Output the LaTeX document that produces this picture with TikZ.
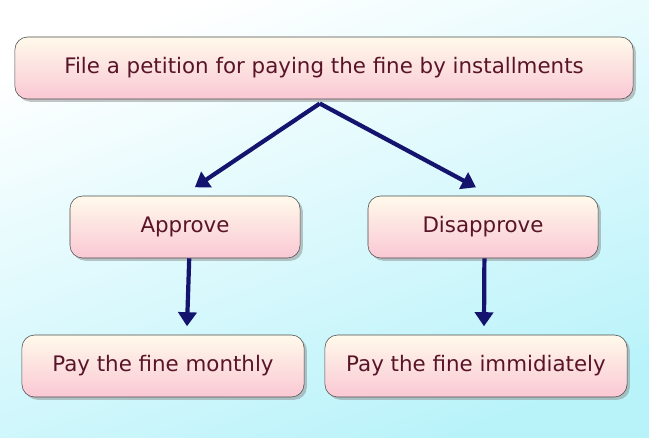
\documentclass[tikz,border=0pt]{standalone}
\usepackage{fontspec}
\setmainfont{DejaVu Sans}
\usetikzlibrary{positioning,shadows,arrows.meta}
\definecolor{boxtext}{RGB}{90,20,40}
\definecolor{arrowblue}{RGB}{20,20,110}
\definecolor{boxpink}{RGB}{250,200,212}
\definecolor{boxlight}{RGB}{255,250,235}
\definecolor{bgcyan}{RGB}{185,243,250}

\begin{document}
\begin{tikzpicture}
	[   x=0.025cm,y=-0.025cm,
	    stepbox/.style={draw=black!70,rounded corners=9pt,top color=boxlight,bottom color=boxpink,
	      drop shadow={shadow xshift=2pt,shadow yshift=-2pt,fill=black!45},
	      text=boxtext,font=\fontsize{15.2}{17}\selectfont,minimum height=1.55cm,inner xsep=6pt},
	]
	\tikzset{flow arrow/.style={draw=arrowblue,line width=3pt,-{Triangle[length=10pt,width=13pt]}}}
	\shade[top color=white,bottom color=bgcyan,shading angle=20] (0,0) rectangle (649,437);
	\useasboundingbox (0,0) rectangle (649,437);
	
	\node[stepbox,minimum width=15.45cm] (petition) at (324,68) {File a petition for paying the fine by installments};
	\node[stepbox,minimum width=5.75cm] (approve) at (185,227) {Approve};
	\node[stepbox,minimum width=5.75cm] (disapprove) at (483,227) {Disapprove};
	\node[stepbox,minimum width=7.05cm] (monthly) at (163,366) {Pay the fine monthly};
	\node[stepbox,minimum width=7.55cm] (immediately) at (476,366) {Pay the fine immidiately};
	
	\coordinate (split) at ([xshift=-3pt,yshift=-3pt]petition.south);
	\path[flow arrow] (split) -- ([xshift=7pt,yshift=6pt]approve.north);
	\path[flow arrow] (split) -- ([xshift=-5pt,yshift=6pt]disapprove.north);
	\path[flow arrow] ([xshift=3pt]approve.south) -- ([xshift=0.6cm,yshift=6pt]monthly.north);
	\path[flow arrow] ([xshift=1pt]disapprove.south) -- ([xshift=0.2cm,yshift=6pt]immediately.north);
\end{tikzpicture}
\end{document}
